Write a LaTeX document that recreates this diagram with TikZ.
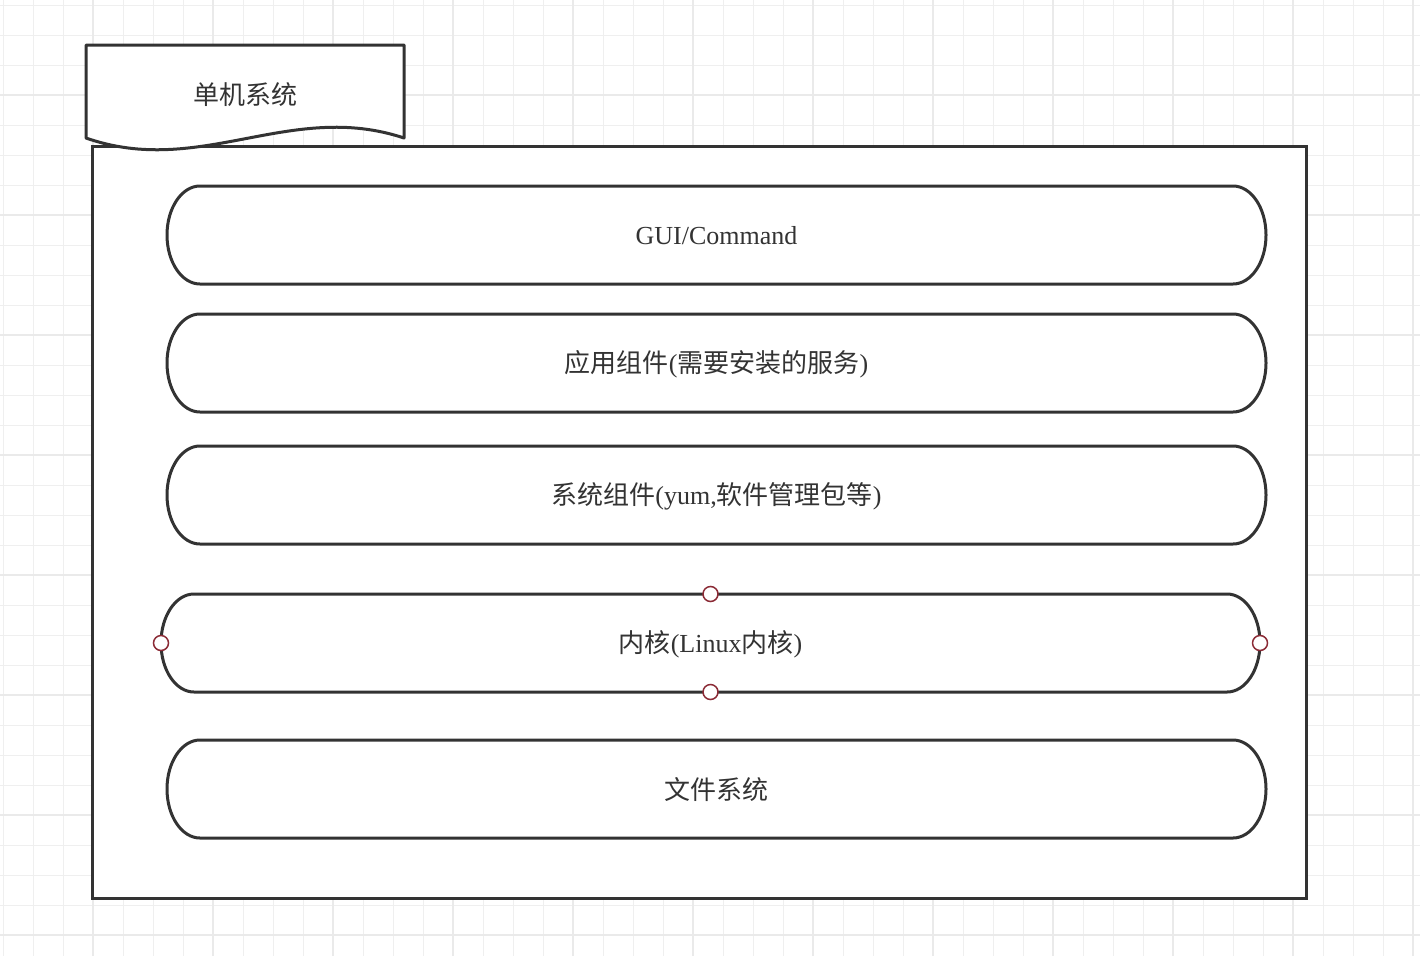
\documentclass[tikz,border=0pt]{standalone}
\usepackage{fontspec}
\setmainfont{Liberation Serif}
\newfontfamily\cjk{Noto Sans CJK SC}
\usetikzlibrary{calc}
\definecolor{ink}{HTML}{333333}
\definecolor{gridminor}{HTML}{EFEFEF}
\definecolor{gridmajor}{HTML}{EAEAEA}
\definecolor{handlecol}{HTML}{8B2A35}
\newcommand\C[1]{{\cjk #1}}
\newcommand\stad[1]{%
  \draw[stadline] ([xshift=33pt]#1.north west) -- ([xshift=-33pt]#1.north east)
    .. controls ([xshift=-14.8pt]#1.north east) and ([yshift=-21.9pt]#1.north east) .. (#1.east)
    .. controls ([yshift=-27.1pt]#1.east) and ([xshift=-14.8pt]#1.south east) .. ([xshift=-33pt]#1.south east)
    -- ([xshift=33pt]#1.south west)
    .. controls ([xshift=14.8pt]#1.south west) and ([yshift=21.9pt]#1.south west) .. (#1.west)
    .. controls ([yshift=27.1pt]#1.west) and ([xshift=14.8pt]#1.north west) .. cycle;}
\tikzset{
  stadline/.style={draw=ink, fill=white, line width=3pt, line join=round},
  stadnode/.style={inner sep=0pt, outer sep=0pt, minimum width=1099pt, minimum height=98pt, text=ink,
    font=\fontsize{26}{30}\selectfont},
  framebox/.style={draw=ink, fill=white, line width=3pt, inner sep=0pt, outer sep=0pt, minimum width=1214pt, minimum height=752pt},
  doctext/.style={text=ink, font=\fontsize{26}{30}\selectfont},
  docline/.style={draw=ink, fill=white, line width=3pt, line join=round},
  handle/.style={circle, draw=handlecol, fill=white, line width=1.5pt, minimum size=15pt, inner sep=0pt},
  gminor/.style={draw=gridminor, line width=1pt},
  gmajor/.style={draw=gridmajor, line width=1.1pt}
}
\begin{document}
\begin{tikzpicture}[x=1pt,y=-1pt]
\useasboundingbox (0,0) rectangle (1420,956);
\fill[white] (0,0) rectangle (1420,956);
% grid
\foreach \x in {3,33,...,1413} \draw[gminor] (\x,0) -- (\x,956);
\foreach \y in {5,35,...,955} \draw[gminor] (0,\y) -- (1420,\y);
\foreach \x in {93,213,...,1413} \draw[gmajor] (\x,0) -- (\x,956);
\foreach \y in {95,215,...,955} \draw[gmajor] (0,\y) -- (1420,\y);
% outer frame
\node[framebox] (sys) at (699,522) {};
% document shape
\draw[docline] (86,45) -- (404,45) -- (404,138)
  .. controls (290,100) and (200,178) .. (86,138) -- cycle;
\node[doctext] (doc) at (245,95) {\C{单机系统}};
% layers
\node[stadnode] (s1) at (716.5,235) {};
\node[stadnode] (s2) at (716.5,363) {};
\node[stadnode] (s3) at (716.5,495) {};
\node[stadnode] (s4) at (710.5,643) {};
\node[stadnode] (s5) at (716.5,789) {};
\stad{s1}
\stad{s2}
\stad{s3}
\stad{s4}
\stad{s5}
\node[stadnode] at ([yshift=-1pt]s1.center) {GUI/Command};
\node[stadnode] at ([yshift=-1pt]s2.center) {\C{应用组件}(\C{需要安装的服务})};
\node[stadnode] at ([yshift=-1pt]s3.center) {\C{系统组件}(yum,\C{软件管理包等})};
\node[stadnode] at ([yshift=-1pt]s4.center) {\C{内核}(Linux\C{内核})};
\node[stadnode] at ([yshift=-1pt]s5.center) {\C{文件系统}};
% selection handles
\node[handle] (hn) at (s4.north) {};
\node[handle] (hs) at (s4.south) {};
\node[handle] (hw) at (s4.west) {};
\node[handle] (he) at (s4.east) {};
\end{tikzpicture}
\end{document}
